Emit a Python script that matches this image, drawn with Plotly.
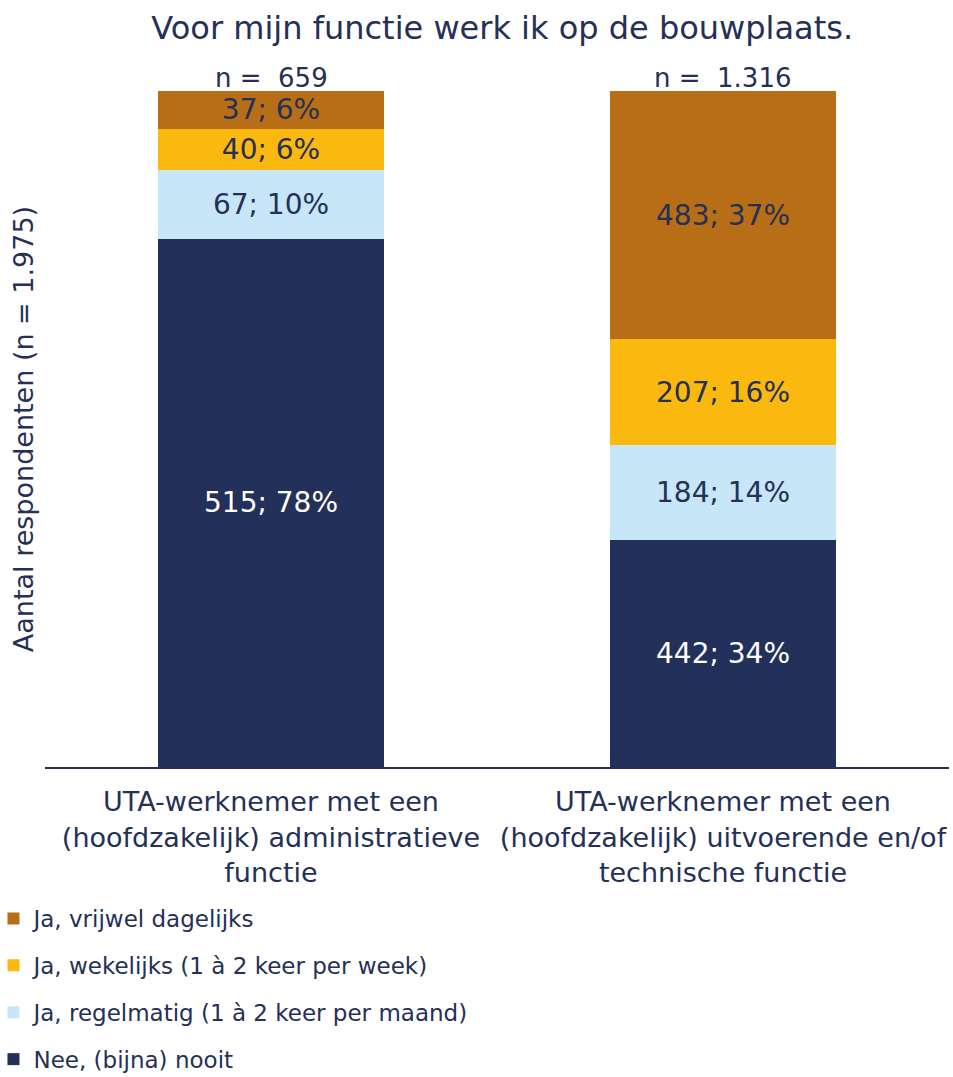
import plotly.graph_objects as go

categories = [
    "UTA-werknemer met een<br>(hoofdzakelijk) administratieve<br>functie",
    "UTA-werknemer met een<br>(hoofdzakelijk) uitvoerende en/of<br>technische functie",
]
n_labels = ["n =\u00a0\u00a0659", "n =\u00a0\u00a01.316"]
series_names = [
    "Nee, (bijna) nooit",
    "Ja, regelmatig (1 à 2 keer per maand)",
    "Ja, wekelijks (1 à 2 keer per week)",
    "Ja, vrijwel dagelijks",
]
nee = [515, 442]
regelmatig = [67, 184]
wekelijks = [40, 207]
dagelijks = [37, 483]

colors = ["#22305A", "#C7E6F8", "#FBB80F", "#B86E17"]
text_colors = ["#FFFFFF", "#243056", "#243056", "#243056"]
TXT = "#243056"
FONT = "DejaVu Sans"

all_series = [nee, regelmatig, wekelijks, dagelijks]
totals = [sum(s[i] for s in all_series) for i in range(len(categories))]

fig = go.Figure()
for k, (name, vals) in enumerate(zip(series_names, all_series)):
    pct = [v / t * 100 for v, t in zip(vals, totals)]
    txt = [f"{v}; {round(p)}%" for v, p in zip(vals, pct)]
    fig.add_trace(go.Bar(
        x=categories, y=pct, name=name, text=txt,
        textposition="inside", insidetextanchor="middle", textangle=0,
        constraintext="none",
        textfont=dict(size=28, color=text_colors[k], family=FONT),
        marker=dict(color=colors[k], line=dict(width=0)),
        width=0.5, legendgroup=name, legendrank=1000 - k, hoverinfo="skip",
    ))

for cat, lab in zip(categories, n_labels):
    fig.add_annotation(x=cat, y=100, xref="x", yref="y", text=lab,
                       showarrow=False, yanchor="bottom", yshift=-4,
                       font=dict(size=26, color=TXT, family=FONT))

fig.update_layout(
    width=953, height=1077,
    barmode="stack",
    paper_bgcolor="white", plot_bgcolor="white",
    margin=dict(l=45, r=4, t=91, b=310, autoexpand=False),
    font=dict(family=FONT, color=TXT),
    title=dict(text="Voor mijn functie werk ik op de bouwplaats.",
               x=0.527, xanchor="center", y=1 - 28 / 1077, yanchor="middle",
               font=dict(size=32, color=TXT, family=FONT)),
    xaxis=dict(showline=True, linecolor="#22305A", linewidth=2,
               tickfont=dict(size=27, color=TXT, family=FONT),
               ticks="", range=[-0.5, 1.5], ticklabelstandoff=10,
               automargin=False),
    yaxis=dict(range=[0, 100], showticklabels=False, showgrid=False,
               zeroline=False, showline=False, automargin=False,
               title=dict(text="Aantal respondenten (n = 1.975)",
                          font=dict(size=27, color=TXT, family=FONT),
                          standoff=2)),
    legend=dict(orientation="v", traceorder="grouped",
                x=-0.057, xanchor="left", y=(767 - 897) / 676, yanchor="top",
                font=dict(size=23, color=TXT, family=FONT),
                tracegroupgap=14, itemwidth=30, bgcolor="rgba(0,0,0,0)"),
    showlegend=True,
)

fig.write_html("out.html", config={"displayModeBar": False},
               post_script="document.body.style.margin='0';")
